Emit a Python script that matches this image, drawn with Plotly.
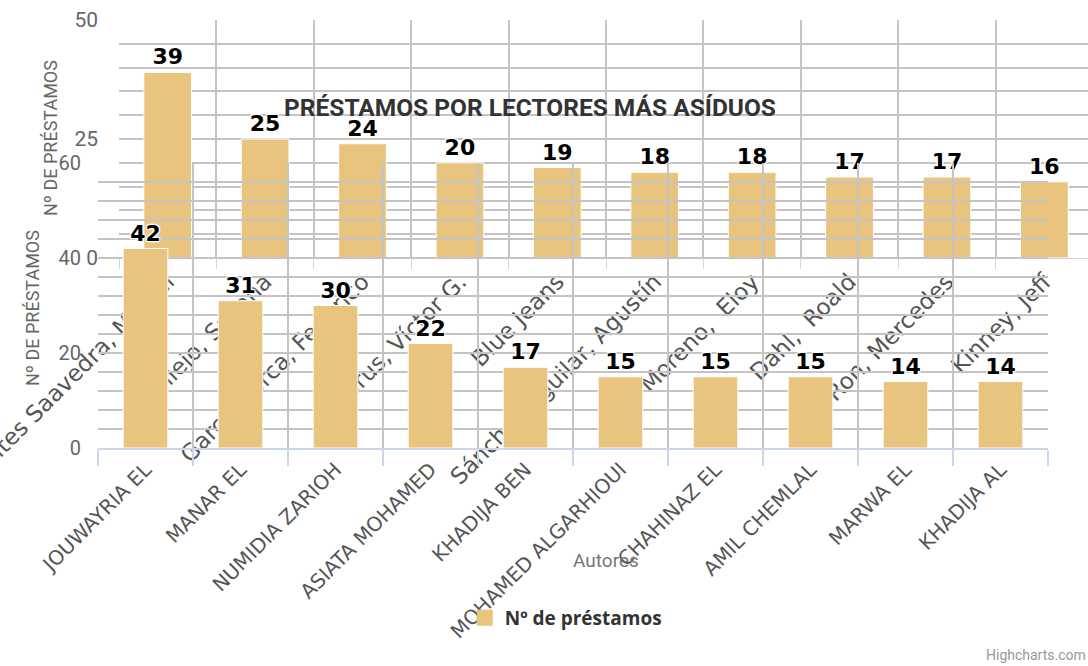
import plotly.graph_objects as go

# ---- data ----
back_authors = ["Cervantes Saavedra, Miguel", "Vallejo, Susana", "García Lorca, Federico",
                "Carus, Víctor G.", "Blue Jeans", "Sánchez Aguilar, Agustín",
                "Moreno,  Eloy", "Dahl,  Roald", "Ron, Mercedes", "Kinney, Jeff"]
back_loans = [39, 25, 24, 20, 19, 18, 18, 17, 17, 16]

front_readers = ["JOUWAYRIA EL", "MANAR EL", "NUMIDIA ZARIOH", "ASIATA MOHAMED", "KHADIJA BEN",
                 "MOHAMED ALGARHIOUI", "CHAHINAZ EL", "AMIL CHEMLAL", "MARWA EL", "KHADIJA AL"]
front_loans = [42, 31, 30, 22, 17, 15, 15, 15, 14, 14]

title_text = "PRÉSTAMOS POR LECTORES MÁS ASÍDUOS"
series_name = "Nº de préstamos"
y_title = "Nº DE PRÉSTAMOS"
x_title = "Autores"

W, H = 1088, 666
BAR = "#e9c47f"
GRID = "#c4c4c4"
NARROW = "Roboto, Lato, sans-serif"
LABEL_SHADOW = "1px 1px 1px #fff, -1px -1px 1px #fff, 1px -1px 1px #fff, -1px 1px 1px #fff, 0 0 3px #fff"

fig = go.Figure()

fig.add_trace(go.Bar(
    x=back_authors, y=back_loans, xaxis="x", yaxis="y",
    marker=dict(color=BAR, line=dict(color="white", width=1)), width=0.49,
    text=back_loans, textposition="outside", cliponaxis=False,
    textfont=dict(family="DejaVu Sans", size=22, color="black", weight="bold", shadow=LABEL_SHADOW),
    showlegend=False, name=series_name,
))
fig.add_trace(go.Bar(
    x=front_readers, y=front_loans, xaxis="x2", yaxis="y2",
    marker=dict(color=BAR, line=dict(color="white", width=1)), width=0.47,
    text=front_loans, textposition="outside", cliponaxis=False,
    textfont=dict(family="DejaVu Sans", size=22, color="black", weight="bold", shadow=LABEL_SHADOW),
    showlegend=False, name=series_name,
))
# legend entry (square swatch like the reference legend)
fig.add_trace(go.Scatter(
    x=[None], y=[None], xaxis="x2", yaxis="y2", mode="markers", name=series_name,
    marker=dict(symbol="square", size=22, color=BAR), showlegend=True,
))

def px_x(p):
    return p / W

def px_y(p):
    return 1 - p / H

fig.update_layout(
    width=W, height=H, autosize=False,
    margin=dict(l=0, r=0, t=0, b=0, autoexpand=False),
    paper_bgcolor="white", plot_bgcolor="rgba(0,0,0,0)",
    title=dict(text=title_text, x=px_x(530), y=px_y(107), xanchor="center", yanchor="middle",
               font=dict(family=NARROW, size=24.5, color="#333333", weight="bold")),
    xaxis=dict(domain=[px_x(119), 1.0], anchor="y", type="category", range=[-0.5, 9.448],
               automargin=False,
               tickson="boundaries", showgrid=True, gridcolor=GRID, gridwidth=2,
               ticks="outside", ticklen=10, tickcolor="#ccd6eb",
               showline=True, linecolor="#ccd6eb", linewidth=1,
               tickangle=-45, tickfont=dict(family="DejaVu Sans", size=23, color="#555555")),
    yaxis=dict(domain=[px_y(258), px_y(20)], anchor="x", range=[0, 50], automargin=False,
               tickvals=[0, 25, 50], showgrid=True, gridcolor=GRID, gridwidth=2,
               minor=dict(dtick=5, showgrid=True, gridcolor=GRID, gridwidth=2),
               zeroline=False, ticklabelstandoff=20,
               tickfont=dict(family=NARROW, size=21, color="#666666")),
    xaxis2=dict(domain=[px_x(98), px_x(1048)], anchor="y2", type="category", range=[-0.5, 9.5],
                automargin=False,
                tickson="boundaries", showgrid=True, gridcolor=GRID, gridwidth=1.5,
                ticks="outside", ticklen=16, tickcolor="#ccd6eb", tickwidth=1.5,
                showline=True, linecolor="#ccd6eb", linewidth=2,
                tickangle=-45, tickfont=dict(family="DejaVu Sans", size=20, color="#555555")),
    yaxis2=dict(domain=[px_y(448), px_y(163)], anchor="x2", range=[0, 60], automargin=False,
                tickvals=[0, 20, 40, 60], showgrid=True, gridcolor=GRID, gridwidth=1.5,
                minor=dict(dtick=4, showgrid=True, gridcolor=GRID, gridwidth=1.5),
                zeroline=False, ticklabelstandoff=16,
                tickfont=dict(family=NARROW, size=20, color="#666666")),
    legend=dict(orientation="h", x=0.52, y=px_y(618), xanchor="center", yanchor="middle",
                font=dict(family="Open Sans", size=19, color="#333333", weight="bold"),
                bgcolor="rgba(0,0,0,0)"),
    annotations=[
        dict(text=y_title, xref="paper", yref="paper", x=px_x(50), y=px_y(138),
             textangle=-90, showarrow=False, xanchor="center", yanchor="middle",
             font=dict(family=NARROW, size=18, color="#666666")),
        dict(text=y_title, xref="paper", yref="paper", x=px_x(32), y=px_y(308),
             textangle=-90, showarrow=False, xanchor="center", yanchor="middle",
             font=dict(family=NARROW, size=18, color="#666666")),
        dict(text=x_title, xref="paper", yref="paper", x=px_x(606), y=px_y(560),
             showarrow=False, xanchor="center", yanchor="middle",
             font=dict(family=NARROW, size=19, color="#777777")),
        dict(text="Highcharts.com", xref="paper", yref="paper", x=1.0, y=px_y(655),
             showarrow=False, xanchor="right", yanchor="middle",
             font=dict(family=NARROW, size=14, color="#999999")),
    ],
)

fig.write_html("out.html", config={"displayModeBar": False},
               post_script="document.body.style.margin='0';")
